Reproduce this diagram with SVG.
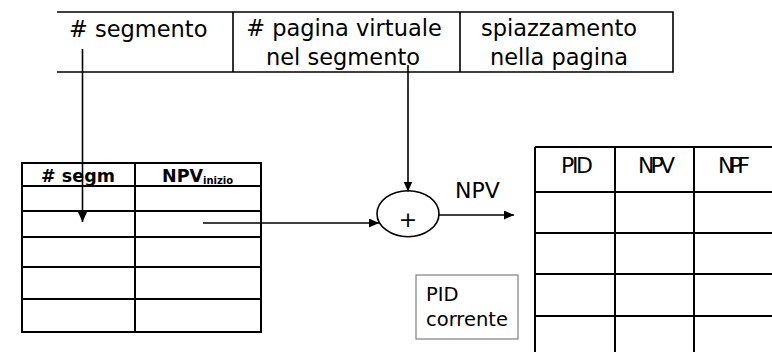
<svg xmlns="http://www.w3.org/2000/svg" width="772" height="352" viewBox="0 0 772 352">
  <style>
    .ln { stroke: #000; stroke-width: 1.6; fill: none; }
    .tb { stroke: #000; stroke-width: 2; fill: none; }
    .t { font-family: "DejaVu Sans", Verdana, sans-serif; fill: #000; }
    .big { font-size: 22.5px; }
    .hdr { font-size: 22px; }
    .bold { font-size: 17.5px; font-weight: bold; }
    .conn { stroke: #000; stroke-width: 1.6; fill: none; }
  </style>
  <defs>
    <marker id="arrow" markerUnits="userSpaceOnUse" markerWidth="11" markerHeight="10" refX="10" refY="4.5" orient="auto">
      <path d="M0,0 L10,4.5 L0,9 z" fill="#000"/>
    </marker>
  </defs>
  <rect width="772" height="352" fill="#fff"/>

  <!-- virtual address: segment / page / offset -->
  <g id="address">
    <path class="ln" d="M57,12 H673 V72 H57 M233,12 V72 M460,12 V72"/>
    <text class="t big" x="69" y="37">#&#160;segmento</text>
    <text class="t big" x="344" y="36" text-anchor="middle"># pagina virtuale</text>
    <text class="t big" x="343" y="65" text-anchor="middle">nel segmento</text>
    <text class="t big" x="559" y="36" text-anchor="middle">spiazzamento</text>
    <text class="t big" x="559" y="65" text-anchor="middle">nella pagina</text>
  </g>

  <!-- segment table -->
  <g id="segment-table">
    <path class="tb" d="M22,163 H261 V332 H22 Z M135,163 V332 M22,186 H261 M22,211 H261 M22,237 H261 M22,267 H261 M22,299 H261"/>
    <text class="t bold" x="78" y="182" text-anchor="middle"># segm</text>
    <text class="t bold" x="162" y="182">NPV<tspan font-size="10" dy="2">inizio</tspan></text>
  </g>

  <!-- adder -->
  <g id="adder">
    <ellipse class="ln" cx="408" cy="213.7" rx="31" ry="23"/>
    <text class="t" x="408" y="227" font-size="22" text-anchor="middle">+</text>
  </g>

  <text id="npv-label" class="t hdr" x="455" y="198">NPV</text>

  <!-- page table -->
  <g id="page-table">
    <path class="tb" d="M535,147 H776 M535,147 V356 M615,147 V356 M694,147 V356 M535,192 H776 M535,233 H776 M535,274 H776 M535,316 H776"/>
    <text class="t hdr" x="561" y="173" textLength="32" lengthAdjust="spacing">PID</text>
    <text class="t hdr" x="638" y="173" textLength="37" lengthAdjust="spacing">NPV</text>
    <text class="t hdr" x="718" y="173" textLength="32" lengthAdjust="spacing">NPF</text>
  </g>

  <!-- current process id register -->
  <g id="pid-corrente">
    <rect x="416" y="275" width="102" height="64" fill="none" stroke="#7f7f7f" stroke-width="1.2"/>
    <text class="t" font-size="19.5" x="426" y="301">PID</text>
    <text class="t" font-size="19.5" x="426" y="326">corrente</text>
  </g>

  <g id="connectors">
    <line class="conn" x1="82.5" y1="49" x2="82.5" y2="222" marker-end="url(#arrow)"/>
    <line class="conn" x1="408" y1="65" x2="408" y2="191.5" marker-end="url(#arrow)"/>
    <line class="conn" x1="203" y1="223" x2="379" y2="223" marker-end="url(#arrow)"/>
    <line class="conn" x1="439" y1="215" x2="514" y2="215" marker-end="url(#arrow)"/>
  </g>
</svg>
